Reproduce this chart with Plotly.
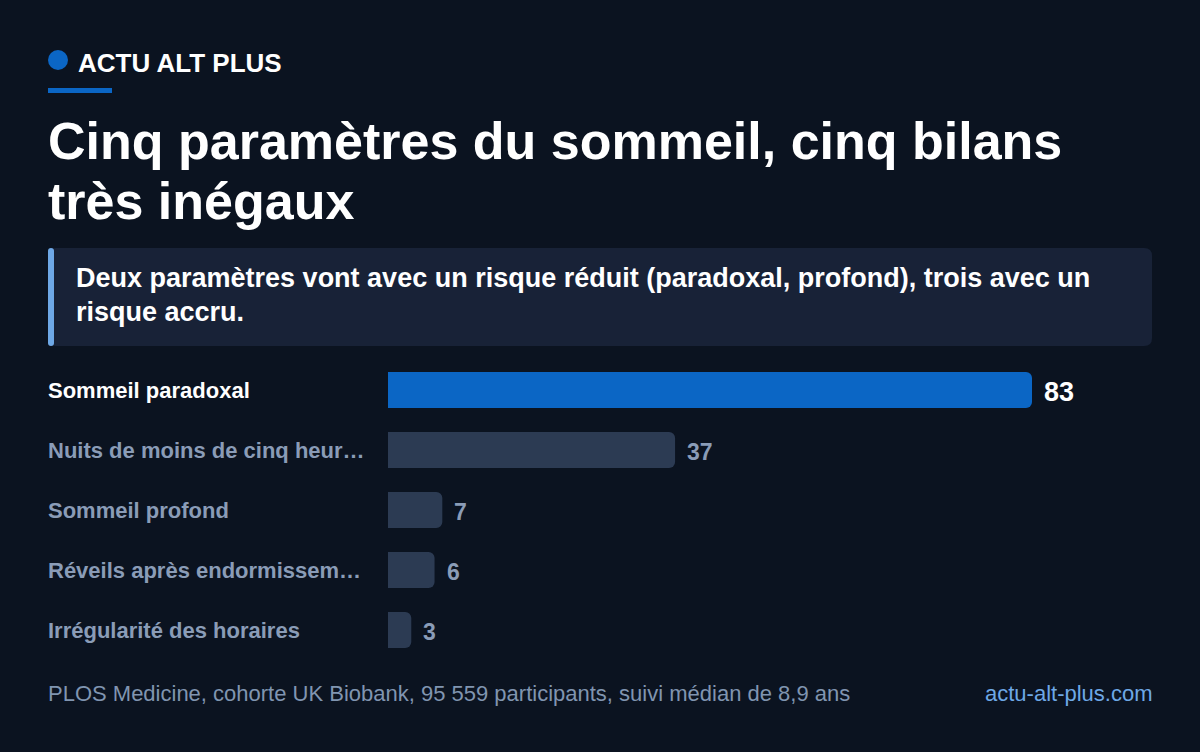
import plotly.graph_objects as go

W, H = 1200, 752

# data
categories = ["Sommeil paradoxal", "Nuits de moins de cinq heur…", "Sommeil profond",
              "Réveils après endormissem…", "Irrégularité des horaires"]
values = [83, 37, 7, 6, 3]
highlight = [True, False, False, False, False]

title_lines = ["Cinq paramètres du sommeil, cinq bilans", "très inégaux"]
subtitle_lines = ["Deux paramètres vont avec un risque réduit (paradoxal, profond), trois avec un",
                  "risque accru."]
brand = "ACTU ALT PLUS"
source = "PLOS Medicine, cohorte UK Biobank, 95 559 participants, suivi médian de 8,9 ans"
site = "actu-alt-plus.com"

BG = "#0b1320"
BLUE = "#0b66c5"
GREY_BAR = "#2c3b53"
BOX = "#182237"
ACCENT = "#6ea8e6"
LABEL = "#8a9cb7"
FONT = "Liberation Sans, Arial, sans-serif"


def px(x):
    return x / W


def py(y):
    return 1 - y / H


def rounded(x0, y0, x1, y1, r):
    # rounded rectangle path in paper coords
    pts = [
        f"M {px(x0 + r)} {py(y0)}",
        f"L {px(x1 - r)} {py(y0)}",
        f"Q {px(x1)} {py(y0)} {px(x1)} {py(y0 + r)}",
        f"L {px(x1)} {py(y1 - r)}",
        f"Q {px(x1)} {py(y1)} {px(x1 - r)} {py(y1)}",
        f"L {px(x0 + r)} {py(y1)}",
        f"Q {px(x0)} {py(y1)} {px(x0)} {py(y1 - r)}",
        f"L {px(x0)} {py(y0 + r)}",
        f"Q {px(x0)} {py(y0)} {px(x0 + r)} {py(y0)}",
        "Z",
    ]
    return " ".join(pts)


bar_left, bar_right = 388, 1152
unit = (1032 - bar_left) / 83
x_max = (bar_right - bar_left) / unit

fig = go.Figure()
fig.add_trace(go.Bar(
    x=values, y=categories, orientation="h",
    marker=dict(color=[BLUE if h else GREY_BAR for h in highlight], line=dict(width=0),
                cornerradius=6),
    width=0.6, hoverinfo="skip",
))

annotations = []
for cat, v, h in zip(categories, values, highlight):
    annotations.append(dict(
        x=px(46), xref="paper", y=cat, yref="y", text=cat, showarrow=False,
        xanchor="left", yanchor="middle",
        font=dict(family=FONT, size=22, color="#ffffff" if h else LABEL, weight="bold"),
    ))
    annotations.append(dict(
        x=v, xref="x", y=cat, yref="y", text=str(v), showarrow=False,
        xanchor="left", yanchor="middle", xshift=10, yshift=-2,
        font=dict(family=FONT, size=27 if h else 23, color="#ffffff" if h else LABEL, weight="bold"),
    ))

# header
annotations.append(dict(x=px(76), y=py(63), xref="paper", yref="paper", text=brand,
                        showarrow=False, xanchor="left", yanchor="middle",
                        font=dict(family=FONT, size=26, color="#ffffff", weight="bold")))
for i, line in enumerate(title_lines):
    annotations.append(dict(x=px(46), y=py(141 + 60 * i), xref="paper", yref="paper", text=line,
                            showarrow=False, xanchor="left", yanchor="middle",
                            font=dict(family=FONT, size=52, color="#ffffff", weight="bold")))
for i, line in enumerate(subtitle_lines):
    annotations.append(dict(x=px(74), y=py(278 + 34 * i), xref="paper", yref="paper", text=line,
                            showarrow=False, xanchor="left", yanchor="middle",
                            font=dict(family=FONT, size=27, color="#ffffff", weight="bold")))
annotations.append(dict(x=px(46), y=py(693), xref="paper", yref="paper", text=source,
                        showarrow=False, xanchor="left", yanchor="middle",
                        font=dict(family=FONT, size=22, color="#8095b0")))
annotations.append(dict(x=px(1155), y=py(693), xref="paper", yref="paper", text=site,
                        showarrow=False, xanchor="right", yanchor="middle",
                        font=dict(family=FONT, size=22, color=ACCENT)))

shapes = [
    dict(type="circle", xref="paper", yref="paper", x0=px(48), x1=px(68), y0=py(70), y1=py(50),
         fillcolor=BLUE, line=dict(width=0)),
    dict(type="rect", xref="paper", yref="paper", x0=px(48), x1=px(112), y0=py(93), y1=py(88),
         fillcolor=BLUE, line=dict(width=0)),
    dict(type="path", xref="paper", yref="paper", path=rounded(48, 248, 1152, 346, 8),
         fillcolor=BOX, line=dict(width=0), layer="below"),
    dict(type="path", xref="paper", yref="paper", path=rounded(48, 248, 54, 346, 3),
         fillcolor=ACCENT, line=dict(width=0)),
]

fig.update_layout(
    width=W, height=H,
    margin=dict(l=0, r=0, t=0, b=0),
    paper_bgcolor=BG, plot_bgcolor=BG,
    showlegend=False,
    barcornerradius=6,
    xaxis=dict(domain=[px(bar_left), px(bar_right)], range=[0, x_max], visible=False, fixedrange=True),
    yaxis=dict(domain=[py(660), py(360)], range=[4.5, -0.5], visible=False, fixedrange=True,
               categoryorder="array", categoryarray=categories),
    annotations=annotations,
    shapes=shapes,
)

fig.write_html("out.html", config={"displayModeBar": False},
               post_script="document.body.style.margin='0';document.body.style.background='%s';" % BG)
